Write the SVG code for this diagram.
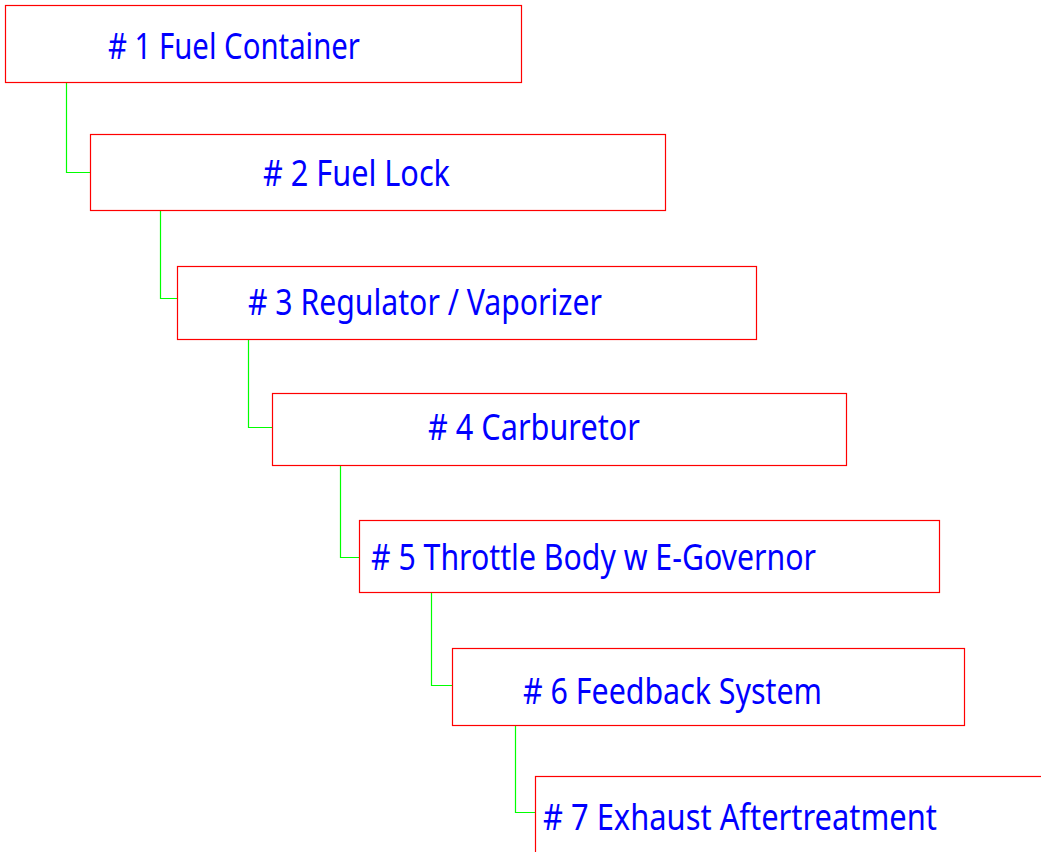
<svg xmlns="http://www.w3.org/2000/svg" width="1041" height="852" viewBox="0 0 1041 852">
  <style>
    .box { fill: #ffffff; stroke: #ff0000; stroke-width: 1.2; }
    .link { fill: none; stroke: #00ff00; stroke-width: 1.2; }
    .label { fill: #0000ff; font-family: "Comic Sans MS", "Noto Sans", "DejaVu Sans", sans-serif; font-size: 36px; }
  </style>
  <rect width="1041" height="852" fill="#ffffff"/>

  <!-- elbow connectors: parent's bottom edge down to child's left edge -->
  <g id="connectors">
    <path class="link" d="M66.5 83 V172.5 H90"/>
    <path class="link" d="M160.5 211 V298.5 H177"/>
    <path class="link" d="M248.5 340 V427.5 H272"/>
    <path class="link" d="M340.5 466 V557.5 H359"/>
    <path class="link" d="M431.5 593 V685.5 H452"/>
    <path class="link" d="M515.5 726 V812.5 H535"/>
  </g>

  <g id="node1">
    <rect class="box" x="5.5" y="5.5" width="516" height="77"/>
    <text class="label" x="108" y="59" textLength="252" lengthAdjust="spacingAndGlyphs"># 1 Fuel Container</text>
  </g>
  <g id="node2">
    <rect class="box" x="90.5" y="134.5" width="575" height="76"/>
    <text class="label" x="263" y="186" textLength="187" lengthAdjust="spacingAndGlyphs"># 2 Fuel Lock</text>
  </g>
  <g id="node3">
    <rect class="box" x="177.5" y="266.5" width="579" height="73"/>
    <text class="label" x="248" y="315" textLength="354" lengthAdjust="spacingAndGlyphs"># 3 Regulator / Vaporizer</text>
  </g>
  <g id="node4">
    <rect class="box" x="272.5" y="393.5" width="574" height="72"/>
    <text class="label" x="428" y="440" textLength="212" lengthAdjust="spacingAndGlyphs"># 4 Carburetor</text>
  </g>
  <g id="node5">
    <rect class="box" x="359.5" y="520.5" width="580" height="72"/>
    <text class="label" x="371" y="570" textLength="445" lengthAdjust="spacingAndGlyphs"># 5 Throttle Body w E-Governor</text>
  </g>
  <g id="node6">
    <rect class="box" x="452.5" y="648.5" width="512" height="77"/>
    <text class="label" x="523" y="704" textLength="299" lengthAdjust="spacingAndGlyphs"># 6 Feedback System</text>
  </g>
  <g id="node7">
    <rect class="box" x="535.5" y="776.5" width="520" height="100"/>
    <text class="label" x="543" y="830" textLength="394" lengthAdjust="spacingAndGlyphs"># 7 Exhaust Aftertreatment</text>
  </g>
</svg>
